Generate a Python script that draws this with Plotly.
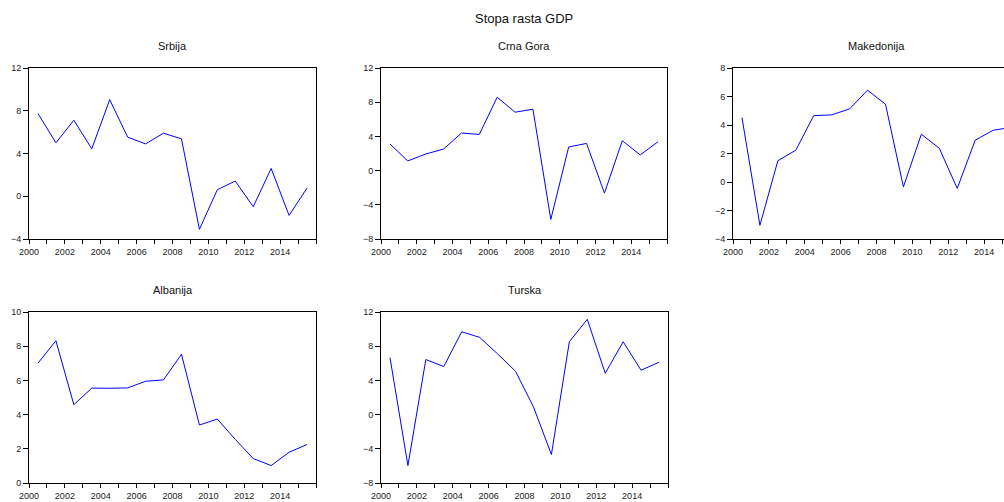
import plotly.graph_objects as go

# Godisnja stopa rasta GDP (%), 2000-2015
years = list(range(2000, 2016))

srbija = [7.74, 5.0, 7.11, 4.44, 9.04, 5.53, 4.9, 5.9, 5.37, -3.1,
          0.61, 1.42, -0.98, 2.6, -1.79, 0.76]
crna_gora = [3.11, 1.13, 1.94, 2.52, 4.39, 4.23, 8.58, 6.83, 7.18, -5.71,
             2.76, 3.18, -2.64, 3.5, 1.83, 3.38]
makedonija = [4.52, -3.04, 1.49, 2.23, 4.66, 4.71, 5.13, 6.44, 5.46, -0.34,
              3.35, 2.37, -0.45, 2.93, 3.63, 3.83]
albanija = [7.01, 8.32, 4.58, 5.55, 5.54, 5.56, 5.95, 6.03, 7.53, 3.39,
            3.74, 2.55, 1.43, 1.02, 1.8, 2.25]
turska = [6.68, -5.96, 6.44, 5.62, 9.69, 9.03, 7.1, 5.07, 0.9, -4.67,
          8.52, 11.14, 4.84, 8.52, 5.19, 6.13]

W, H = 1004, 502

# name, data, y range, y dtick, box in pixels (left, right, top, bottom)
panels = [
    ('Srbija', srbija, [-4, 12], 4, (29, 316, 68, 239)),
    ('Crna Gora', crna_gora, [-8, 12], 4, (381, 667, 68, 239)),
    ('Makedonija', makedonija, [-4, 8], 2, (733, 1004, 68, 239)),
    ('Albanija', albanija, [0, 10], 2, (29, 316, 312, 483)),
    ('Turska', turska, [-8, 12], 4, (381, 668, 312, 483)),
]

fam = 'Liberation Sans, Arial, sans-serif'
font = dict(family=fam, size=9, color='#222')
tick_vals = list(range(2000, 2017))
tick_text = [str(v) if v % 2 == 0 and v < 2016 else '' for v in tick_vals]
px_per_year = (316 - 29) / 16

fig = go.Figure()
annotations = [dict(text='Stopa rasta GDP', x=524 / W, y=1 - 19 / H,
                    xref='paper', yref='paper', showarrow=False,
                    xanchor='center', yanchor='middle',
                    font=dict(family=fam, size=13, color='#111'))]

for i, (name, vals, yr, dt, (l, r, t, b)) in enumerate(panels, start=1):
    sfx = '' if i == 1 else str(i)
    # tockice su na sredini godine
    fig.add_trace(go.Scatter(x=[y + 0.5 for y in years], y=vals, mode='lines',
                             line=dict(color='#0000FF', width=1),
                             xaxis='x' + sfx, yaxis='y' + sfx,
                             showlegend=False, hoverinfo='skip'))
    clipped = r >= W
    x_end = 2000 + (r - l) / px_per_year if clipped else 2016
    fig.layout['xaxis' + sfx] = dict(
        domain=[l / W, r / W], anchor='y' + sfx, range=[2000, x_end],
        tickvals=tick_vals, ticktext=tick_text, ticks='outside', ticklen=4,
        tickcolor='black', showline=True, linecolor='black', linewidth=1,
        mirror=True, showgrid=False, zeroline=False, tickfont=font,
        automargin=False)
    fig.layout['yaxis' + sfx] = dict(
        domain=[1 - b / H, 1 - t / H], anchor='x' + sfx, range=yr,
        dtick=dt, tick0=0, ticks='outside', ticklen=5, tickcolor='black',
        showline=True, linecolor='black', linewidth=1,
        mirror=False if clipped else True, showgrid=False, zeroline=False,
        tickfont=font, automargin=False)
    cx = (l + (l + 287 if clipped else r)) / 2
    annotations.append(dict(text=name, x=cx / W, y=1 - (t - 22) / H,
                            xref='paper', yref='paper', showarrow=False,
                            xanchor='center', yanchor='middle',
                            font=dict(family=fam, size=11, color='#111')))

fig.update_layout(width=W, height=H, margin=dict(l=0, r=0, t=0, b=0),
                  paper_bgcolor='white', plot_bgcolor='white',
                  annotations=annotations)

# bez margine stranice, da se grafik poklopi sa prozorom
fig.write_html('out.html', config={'displayModeBar': False},
               post_script="document.body.style.margin='0';")
